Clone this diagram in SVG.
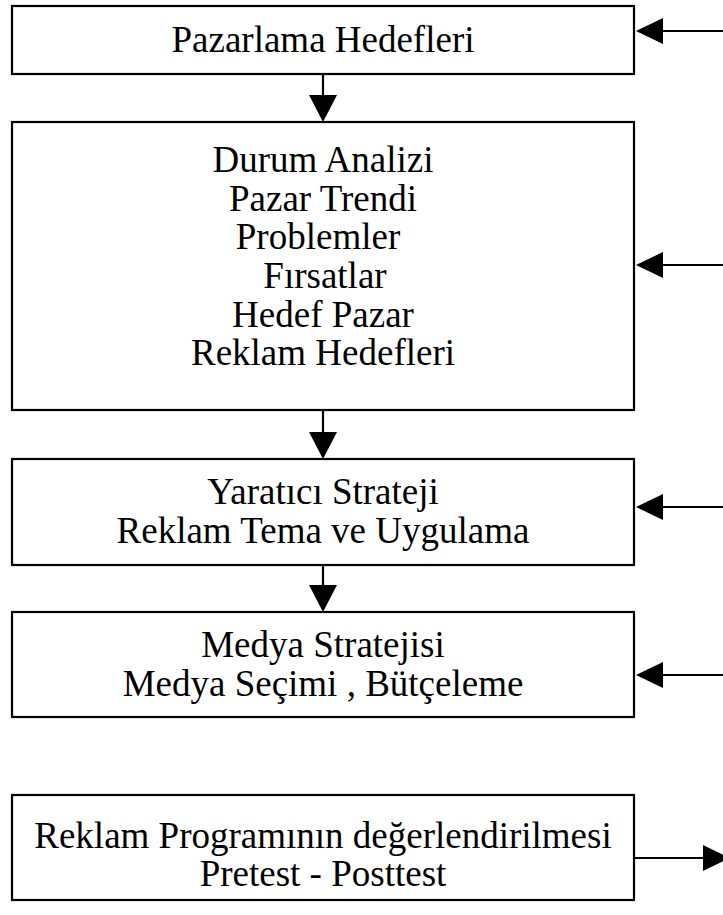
<svg xmlns="http://www.w3.org/2000/svg" width="723" height="915" viewBox="0 0 723 915">
  <style>
    .box { fill: #ffffff; stroke: #000000; stroke-width: 2.2; }
    .lbl { font-family: "Liberation Serif", "Times New Roman", serif; font-size: 37px; fill: #000000; text-anchor: middle; }
    .wire { stroke: #000000; stroke-width: 2.2; fill: none; }
    .head { fill: #000000; }
  </style>
  <rect width="723" height="915" fill="#ffffff"/>

  <g id="pazarlama-hedefleri">
    <rect class="box" x="12" y="6" width="622" height="68"/>
    <text class="lbl" x="323" y="52">Pazarlama Hedefleri</text>
  </g>

  <g id="durum-analizi">
    <rect class="box" x="12" y="122" width="622" height="288"/>
    <text class="lbl" x="323" y="172">Durum Analizi</text>
    <text class="lbl" x="323" y="211">Pazar Trendi</text>
    <text class="lbl" x="318" y="249">Problemler</text>
    <text class="lbl" x="325" y="288">Fırsatlar</text>
    <text class="lbl" x="323" y="327">Hedef Pazar</text>
    <text class="lbl" x="323" y="365">Reklam Hedefleri</text>
  </g>

  <g id="yaratici-strateji">
    <rect class="box" x="12" y="459" width="622" height="106"/>
    <text class="lbl" x="323" y="504">Yaratıcı Strateji</text>
    <text class="lbl" x="323" y="543">Reklam Tema ve Uygulama</text>
  </g>

  <g id="medya-stratejisi">
    <rect class="box" x="12" y="612" width="622" height="105"/>
    <text class="lbl" x="323" y="657">Medya Stratejisi</text>
    <text class="lbl" x="323" y="696">Medya Seçimi , Bütçeleme</text>
  </g>

  <g id="reklam-degerlendirme">
    <rect class="box" x="12" y="795" width="622" height="105"/>
    <text class="lbl" x="323" y="848">Reklam Programının değerlendirilmesi</text>
    <text class="lbl" x="323" y="886">Pretest - Posttest</text>
  </g>

  <g id="connectors">
    <!-- vertical flow between stages -->
    <line class="wire" x1="323" y1="74" x2="323" y2="96"/>
    <polygon class="head" points="309,95 337,95 323,122"/>
    <line class="wire" x1="323" y1="410" x2="323" y2="433"/>
    <polygon class="head" points="309,432 337,432 323,459"/>
    <line class="wire" x1="323" y1="565" x2="323" y2="586"/>
    <polygon class="head" points="309,585 337,585 323,612"/>

    <!-- feedback inputs from the right -->
    <line class="wire" x1="661" y1="31" x2="723" y2="31"/>
    <polygon class="head" points="636,31 663,18 663,44"/>
    <line class="wire" x1="661" y1="265" x2="723" y2="265"/>
    <polygon class="head" points="636,265 663,252 663,278"/>
    <line class="wire" x1="661" y1="507" x2="723" y2="507"/>
    <polygon class="head" points="636,507 663,494 663,520"/>
    <line class="wire" x1="661" y1="675" x2="723" y2="675"/>
    <polygon class="head" points="636,675 663,662 663,688"/>

    <!-- evaluation output -->
    <line class="wire" x1="634" y1="858" x2="705" y2="858"/>
    <polygon class="head" points="703,845 730,858 703,871"/>
  </g>
</svg>
